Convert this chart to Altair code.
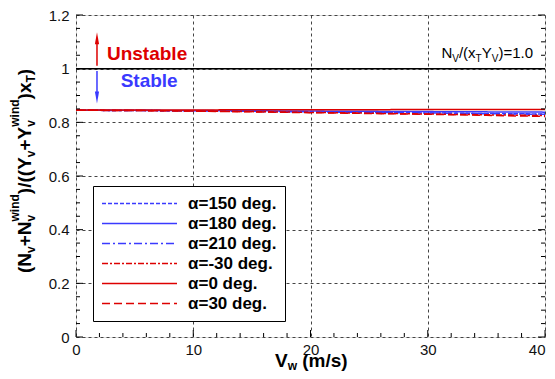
import altair as alt
import pandas as pd

# ---------------- data ----------------
V = [0, 5, 10, 15, 20, 25, 30, 35, 40]
series_names = ["α=150 deg.", "α=180 deg.", "α=210 deg.", "α=-30 deg.", "α=0 deg.", "α=30 deg."]
a150 = [0.845, 0.844, 0.843, 0.841, 0.839, 0.837, 0.835, 0.833, 0.831]
a180 = [0.845, 0.845, 0.844, 0.843, 0.842, 0.841, 0.840, 0.839, 0.838]
a210 = [0.845, 0.844, 0.843, 0.841, 0.839, 0.837, 0.835, 0.832, 0.830]
am30 = [0.845, 0.844, 0.842, 0.840, 0.837, 0.834, 0.831, 0.828, 0.825]
a0 = [0.846, 0.846, 0.846, 0.847, 0.847, 0.847, 0.848, 0.848, 0.848]
a30 = [0.845, 0.844, 0.842, 0.839, 0.836, 0.833, 0.830, 0.826, 0.822]
series_values = [a150, a180, a210, am30, a0, a30]
series_colors = ["#3a3aff", "#3a3aff", "#3a3aff", "#dd0000", "#dd0000", "#dd0000"]
series_dash = [[4, 2], [1, 0], [8, 3, 2, 3], [6, 2, 2, 2], [1, 0], [8, 4]]

x_major = [0, 10, 20, 30, 40]
x_minor = [2, 4, 6, 8, 12, 14, 16, 18, 22, 24, 26, 28, 32, 34, 36, 38]
y_major = [0, 0.2, 0.4, 0.6, 0.8, 1.0, 1.2]
y_minor = [0.05, 0.1, 0.15, 0.25, 0.3, 0.35, 0.45, 0.5, 0.55, 0.65, 0.7, 0.75,
           0.85, 0.9, 0.95, 1.05, 1.1, 1.15]

ref_line = [1.0]
arrow_x = [1.79]
up_arrow = [1.011, 1.113]      # tail, head centre
down_arrow = [0.991, 0.893]
unstable_pos = [2.64, 1.031]
stable_pos = [3.81, 0.933]

W, H = 469, 322
FONT = "Liberation Sans"
RED = "#dd0000"
BLUE = "#3a3aff"

rows = []
for name, vals in zip(series_names, series_values):
    for v, y in zip(V, vals):
        rows.append({"series": name, "V": v, "val": y})
df = pd.DataFrame(rows)

xscale = alt.Scale(domain=[0, 40], nice=False, zero=False)
yscale = alt.Scale(domain=[0, 1.2], nice=False, zero=False)

legend = alt.Legend(
    title=None, orient="none", legendX=17, legendY=171,
    symbolType="stroke", symbolSize=5625, symbolStrokeWidth=1.5,
    clipHeight=19, rowPadding=1, padding=8, labelOffset=10,
    labelFont=FONT, labelFontSize=17, labelFontWeight="bold", labelColor="black",
    strokeColor="black", fillColor="white", labelLimit=300,
)

lines = alt.Chart(df).mark_line(strokeWidth=1.5).encode(
    x=alt.X("V:Q", scale=xscale,
            axis=alt.Axis(title="", values=x_major, ticks=False, domain=False,
                          grid=True, gridDash=[3, 3], gridColor="#444", gridWidth=1,
                          labelFont=FONT, labelFontSize=15, labelColor="#111",
                          labelPadding=5, labelFlush=False,
                          labelAlign={"condition": {"test": "datum.value == 40", "value": "right"},
                                      "value": "center"})),
    y=alt.Y("val:Q", scale=yscale,
            axis=alt.Axis(title="", values=y_major, format="~g", ticks=False, domain=False,
                          grid=True, gridDash=[3, 3], gridColor="#444", gridWidth=1,
                          labelFont=FONT, labelFontSize=15, labelColor="#111",
                          labelPadding=7)),
    color=alt.Color("series:N", scale=alt.Scale(domain=series_names, range=series_colors),
                    legend=legend),
    strokeDash=alt.StrokeDash("series:N", scale=alt.Scale(domain=series_names, range=series_dash),
                              legend=legend),
)

ref = alt.Chart(pd.DataFrame({"y": ref_line})).mark_rule(color="black", strokeWidth=1.5).encode(
    y=alt.Y("y:Q", scale=yscale)
)

def tick_layer(vals, orient, length):
    d = pd.DataFrame({"v": vals})
    c = alt.Chart(d).mark_rule(color="black", strokeWidth=1)
    if orient == "bottom":
        return c.encode(x=alt.X("v:Q", scale=xscale), y=alt.value(H), y2=alt.value(H - length))
    if orient == "left":
        return c.encode(y=alt.Y("v:Q", scale=yscale), x=alt.value(0), x2=alt.value(length))
    return c.encode(y=alt.Y("v:Q", scale=yscale), x=alt.value(W), x2=alt.value(W - length))

ticks = [
    tick_layer(x_major, "bottom", 7), tick_layer(x_minor, "bottom", 4),
    tick_layer(y_major, "left", 7), tick_layer(y_minor, "left", 4),
    tick_layer(y_major, "right", 7), tick_layer(y_minor, "right", 4),
]

# arrows
def arrow(vals, color, path):
    shaft = alt.Chart(pd.DataFrame({"x": arrow_x, "y": [vals[0]], "y2": [vals[1]]})).mark_rule(
        color=color, strokeWidth=1.5).encode(
        x=alt.X("x:Q", scale=xscale), y=alt.Y("y:Q", scale=yscale), y2="y2:Q")
    head = alt.Chart(pd.DataFrame({"x": arrow_x, "y": [vals[1]]})).mark_point(
        shape=path, size=144, filled=True, color=color, opacity=1, strokeWidth=0).encode(
        x=alt.X("x:Q", scale=xscale), y=alt.Y("y:Q", scale=yscale))
    return shaft + head

arr_up = arrow(up_arrow, RED, "M0,-1L0.35,1L-0.35,1Z")
arr_down = arrow(down_arrow, BLUE, "M0,1L0.35,-1L-0.35,-1Z")

def label(pos, text, color):
    return alt.Chart(pd.DataFrame({"x": [pos[0]], "y": [pos[1]], "t": [text]})).mark_text(
        align="left", baseline="alphabetic", font=FONT, fontSize=19, fontWeight="bold",
        color=color).encode(x=alt.X("x:Q", scale=xscale), y=alt.Y("y:Q", scale=yscale), text="t:N")

lab_unstable = label(unstable_pos, "Unstable", RED)
lab_stable = label(stable_pos, "Stable", BLUE)

# ------------- compound texts with sub/superscripts -------------
BOLD = {'(': 333, ')': 333, 'N': 722, '+': 584, 'Y': 667, '/': 278, 'x': 556, 'v': 556,
        'w': 778, 'i': 278, 'n': 611, 'd': 611, 'T': 611, 'V': 667, ' ': 278, 'm': 889, 's': 556}
REG = {'N': 722, '/': 278, '(': 333, 'x': 500, 'Y': 667, ')': 333, '=': 584, '1': 556,
       '.': 278, '0': 556, 'V': 667, 'T': 611, ' ': 278}

def tw(s, fs, table):
    return sum(table.get(c, 556) for c in s) * fs / 1000.0

def layout(segs, fs_main, fs_small, table):
    pos = 0.0
    out = []
    prev_start, prev_w = 0.0, 0.0
    for text, kind in segs:
        stacked = kind.endswith("+")
        kind = kind.rstrip("+")
        fs = fs_main if kind == "main" else fs_small
        lead = len(text) - len(text.lstrip(" "))
        if lead and not stacked:
            pos += tw(" " * lead, fs, table)
            text = text.lstrip(" ")
        w = tw(text, fs, table)
        if stacked:
            start = prev_start
            pos = max(prev_start + prev_w, start + w)
        else:
            start = pos
            pos = start + w
        out.append((text, kind, fs, start))
        prev_start, prev_w = start, w
    return out, pos

def text_layers(segs, fs_main, fs_small, table, weight, x0, y0, shifts, angle=0):
    items, total = layout(segs, fs_main, fs_small, table)
    layers = []
    for text, kind, fs, start in items:
        if angle == 0:
            px, py = x0 + start, y0 + shifts[kind]
        else:
            px, py = x0 + shifts[kind], y0 - start
        layers.append(
            alt.Chart(pd.DataFrame({"t": [text]})).mark_text(
                align="left", baseline="alphabetic", font=FONT, fontSize=fs,
                fontWeight=weight, color="black", angle=angle
            ).encode(x=alt.value(px), y=alt.value(py), text="t:N")
        )
    return layers

ytitle_segs = [("(N", "main"), ("v", "sub"), ("+N", "main"), ("v", "sub"), ("wind", "sup+"),
               (")/((Y", "main"), ("v", "sub"), ("+Y", "main"), ("v", "sub"), ("wind", "sup+"),
               (")x", "main"), ("T", "sub"), (")", "main")]
ytitle = text_layers(ytitle_segs, 19, 12, BOLD, "bold", -45.0, 258.0,
                     {"main": 0, "sub": 4, "sup": -12}, angle=270)

xtitle_segs = [("V", "main"), ("w", "sub"), (" (m/s)", "main")]
xtitle = text_layers(xtitle_segs, 19, 12, BOLD, "bold", 199.0, 352.0,
                     {"main": 0, "sub": 3, "sup": -8})

ann_segs = [("N", "main"), ("V", "sub"), ("/(x", "main"), ("T", "sub"), ("Y", "main"),
            ("V", "sub"), (")=1.0", "main")]
_, ann_w = layout(ann_segs, 15, 10, REG)
ann = text_layers(ann_segs, 15, 10, REG, "normal", 457.0 - ann_w, 43.0,
                  {"main": 0, "sub": 3.5, "sup": -6})

chart = alt.layer(
    lines, ref, *ticks, arr_up, arr_down, lab_unstable, lab_stable, *ytitle, *xtitle, *ann
).properties(
    width=W, height=H,
    autosize=alt.AutoSizeParams(type="none"),
    padding={"left": 68, "top": 7, "right": 2, "bottom": 34},
).configure_view(
    stroke="black", strokeWidth=1.5
).configure(background="white")

chart.save("out.html", embed_options={"renderer": "svg", "actions": False})
